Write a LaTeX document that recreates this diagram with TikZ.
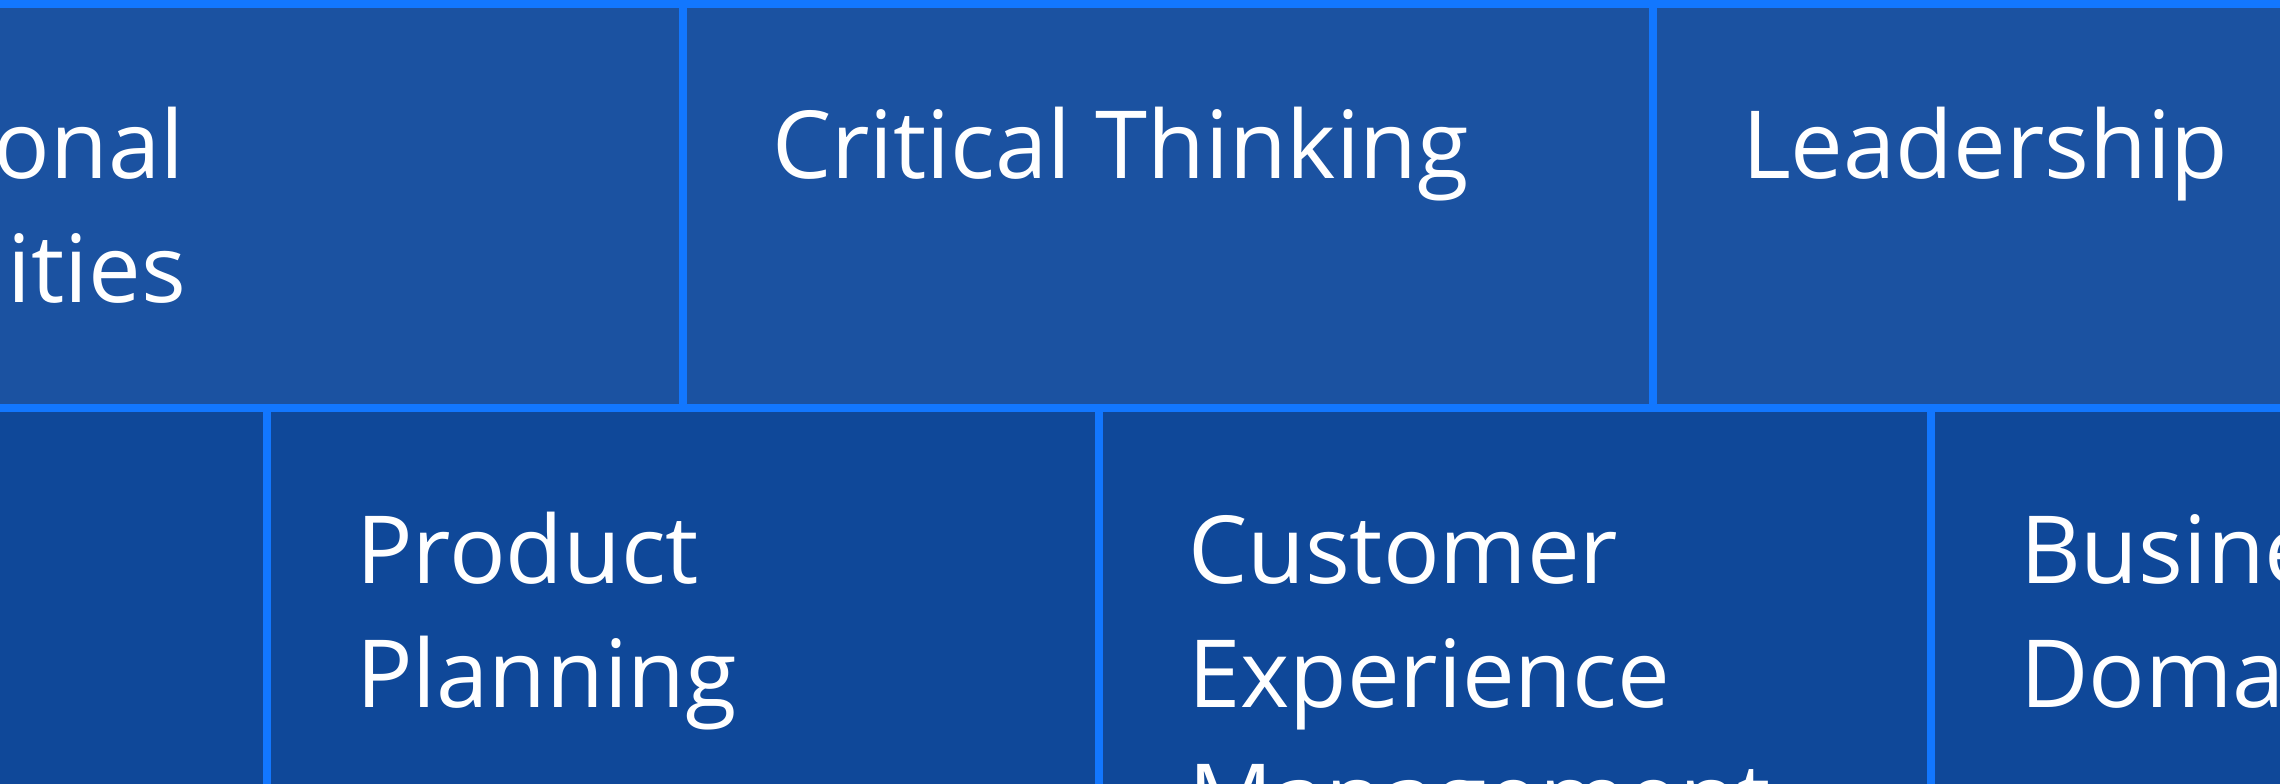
\documentclass[tikz,border=0pt]{standalone}
\usepackage{fontspec}
\setmainfont{Open Sans}
\definecolor{gridline}{RGB}{18,119,255}
\definecolor{topfill}{RGB}{27,82,161}
\definecolor{botfill}{RGB}{15,72,153}
\newcommand{\celltext}[1]{\parbox[t]{2000pt}{\raggedright #1}}
\begin{document}
\begin{tikzpicture}[x=1pt,y=-1pt,
  cell/.style={inner sep=0pt, outer sep=0pt, draw=none, rectangle, anchor=north west},
  topcell/.style={cell, fill=topfill, minimum height=396pt},
  botcell/.style={cell, fill=botfill, minimum height=400pt},
  celllabel/.style={inner sep=0pt, outer sep=0pt, anchor=base west, text=white,
    font=\fontsize{94}{124}\selectfont}]
  \useasboundingbox (0,0) rectangle (2280,784);
  \clip (0,0) rectangle (2280,784);
  \fill[gridline] (-10,-10) rectangle (2290,794);
  % top row
  \node[topcell, minimum width=979pt] (t1) at (-300,8) {};
  \node[topcell, minimum width=962pt] (t2) at (687,8) {};
  \node[topcell, minimum width=743pt] (t3) at (1657,8) {};
  % bottom row
  \node[botcell, minimum width=863pt] (b1) at (-600,412) {};
  \node[botcell, minimum width=824pt] (b2) at (271,412) {};
  \node[botcell, minimum width=824pt] (b3) at (1103,412) {};
  \node[botcell, minimum width=465pt] (b4) at (1935,412) {};
  % labels
  \node[celllabel] (l1) at (-199,178) {\celltext{Personal\\Qualities}};
  \node[celllabel] (l2) at (772,178) {\celltext{Critical Thinking}};
  \node[celllabel] (l3) at (1742,178) {\celltext{Leadership}};
  \node[celllabel] (l4) at (356,583) {\celltext{Product\\Planning}};
  \node[celllabel] (l5) at (1188,583) {\celltext{Customer\\Experience\\Management}};
  \node[celllabel] (l6) at (2020,583) {\celltext{Business\\Domain}};
\end{tikzpicture}
\end{document}
